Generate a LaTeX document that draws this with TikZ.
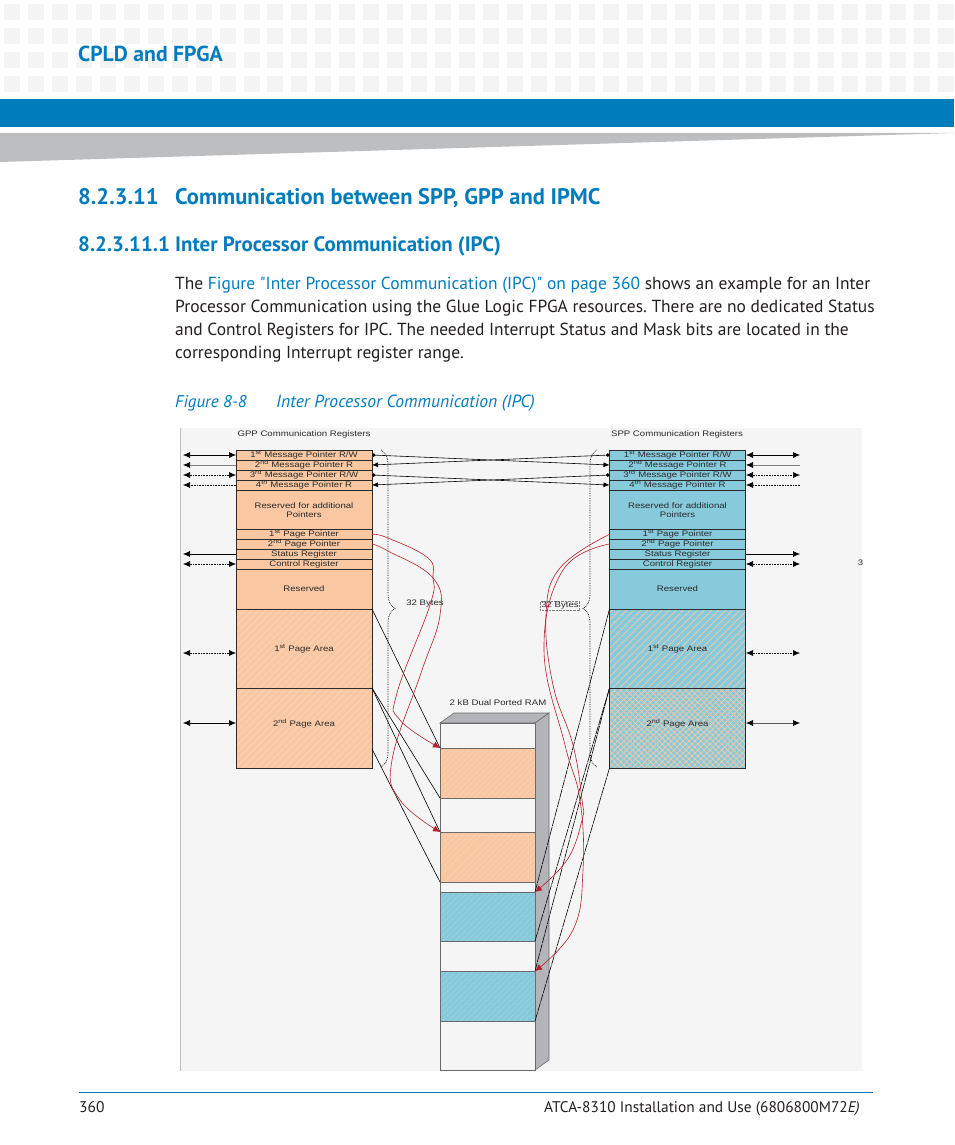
\documentclass[tikz,border=0pt]{standalone}
\usepackage{fontspec}
\setmainfont{PT Sans}
\newfontfamily\quotefont{PT Sans}
\newfontfamily\regfont[FakeStretch=1.2]{Liberation Sans}
\usetikzlibrary{arrows.meta,positioning,decorations.pathreplacing,patterns.meta}
\definecolor{HeadBlue}{HTML}{007CBD}
\definecolor{BandGray}{HTML}{BDBEC0}
\definecolor{TileGray}{HTML}{F4F4F4}
\definecolor{FigBack}{HTML}{F5F5F5}
\definecolor{GppFill}{HTML}{F9C8A3}
\definecolor{GppLight}{HTML}{FCD6BC}
\definecolor{SppFill}{HTML}{87CADC}
\definecolor{SppLight}{HTML}{A6D8E6}
\definecolor{RamSide}{HTML}{B3B4B8}
\definecolor{PtrRed}{HTML}{B5202C}
\definecolor{BodyInk}{HTML}{231F20}
\definecolor{RegInk}{HTML}{2A2A2A}
\begin{document}
\begin{tikzpicture}[
        x=1pt,y=-1pt,
        node distance=0pt,
        reg/.style={draw=RegInk,line width=0.6pt,inner sep=0pt,outer sep=0pt,minimum width=136pt,align=center,text=RegInk,font=\regfont\fontsize{8}{9}\selectfont},
        gppreg/.style={reg,fill=GppFill},
        sppreg/.style={reg,fill=SppFill},
        gpparea/.style={reg,preaction={fill=GppFill},pattern={Lines[angle=45,distance=5pt,line width=0.6pt]},pattern color=GppLight},
        spphatch/.style={reg,preaction={fill=SppFill},pattern={Lines[angle=45,distance=5pt,line width=0.7pt]},pattern color=GppFill},
        sppcross/.style={reg,preaction={fill=SppFill},preaction={pattern={Lines[angle=-45,distance=4.2pt,line width=0.7pt]},pattern color=GppFill},pattern={Lines[angle=45,distance=4.2pt,line width=0.7pt]},pattern color=GppFill},
        ramcell/.style={draw=RegInk!70,line width=0.6pt,inner sep=0pt,outer sep=0pt,minimum width=95pt,fill=FigBack},
        ramgpp/.style={ramcell,preaction={fill=GppFill},pattern={Lines[angle=45,distance=4pt,line width=0.4pt]},pattern color=GppLight},
        ramspp/.style={ramcell,preaction={fill=SppFill},pattern={Lines[angle=45,distance=4pt,line width=0.4pt]},pattern color=SppLight},
        coltitle/.style={text=RegInk,font=\regfont\fontsize{8}{9}\selectfont},
        onearr/.style={-{Latex[length=7pt,width=6pt,black]},line width=0.6pt},
        biarr/.style={{Latex[length=7pt,width=6pt,black]}-{Latex[length=7pt,width=6pt,black]},line width=0.6pt},
        msgarr/.style={{Circle[length=3.5pt]}-{Latex[length=6pt,width=5pt]},line width=0.6pt},
        mapline/.style={line width=0.6pt,black},
        ptr/.style={-{Latex[length=7pt,width=6.5pt]},line width=0.6pt,draw=PtrRed},
        bytebrace/.style={decorate,decoration={brace,amplitude=14pt},densely dotted,line width=0.7pt}
      ]
        \useasboundingbox (0,0) rectangle (954,1145);
        % page head
        \foreach \col in {0,...,39}
          \foreach \row in {0,...,3}
            \fill[TileGray] (4+23.95*\col,4+24*\row) rectangle +(16,16);
        \fill[HeadBlue] (0,99) rectangle (954,127);
        \fill[BandGray] (0,133) -- (954,133) -- (0,162) -- cycle;
        \node[anchor=base west,inner sep=0pt,text=HeadBlue,font=\fontsize{21.7}{26}\selectfont\bfseries] (chapter) at (78,62) {CPLD and FPGA};
        \node[anchor=base west,inner sep=0pt,text=HeadBlue,font=\fontsize{22.5}{25}\selectfont\bfseries] (secnum) at (78,204) {8.2.3.11};
        \node[anchor=base west,inner sep=0pt,text=HeadBlue,font=\fontsize{22.5}{25}\selectfont\bfseries] (sectitle) at (175,204) {Communication between SPP, GPP and IPMC};
        \node[anchor=base west,inner sep=0pt,text=HeadBlue,font=\fontsize{20.9}{23}\selectfont\bfseries] (subsec) at (78,251) {8.2.3.11.1 Inter Processor Communication (IPC)};
        \node[anchor=north west,inner sep=0pt,align=left,text=BodyInk,font=\fontsize{17.45}{23}\selectfont\frenchspacing] (bodytext) at (175,277) {The \textcolor{HeadBlue}{Figure {\quotefont"}Inter Processor Communication (IPC){\quotefont"} on page 360} shows an example for an Inter\\
          Processor Communication using the Glue Logic FPGA resources. There are no dedicated Status\\
          and Control Registers for IPC. The needed Interrupt Status and Mask bits are located in the\\
          corresponding Interrupt register range.};
        \node[anchor=base west,inner sep=0pt,text=HeadBlue,font=\fontsize{17}{22}\selectfont\itshape] (fignum) at (175,407) {Figure 8-8};
        \node[anchor=base west,inner sep=0pt,text=HeadBlue,font=\fontsize{17.6}{22}\selectfont\itshape] (figtitle) at (276,407) {Inter Processor Communication (IPC)};
        % figure back
        \fill[FigBack] (180,428) rectangle (862,1071);
        \draw[gray!50,line width=0.6pt] (180,428) -- (180,1071);
        \node[coltitle] (gpptitle) at (304,434) {GPP Communication Registers};
        \node[coltitle] (spptitle) at (677,434) {SPP Communication Registers};
        \node[coltitle] (ramtitle) at (498,703) {2 kB Dual Ported RAM};
        % GPP registers
        \node[gppreg,minimum height=10pt,anchor=north west] (gppA) at (236,450) {1\textsuperscript{st} Message Pointer R/W};
        \node[gppreg,minimum height=10pt,below=of gppA] (gppB) {2\textsuperscript{nd} Message Pointer R};
        \node[gppreg,minimum height=10pt,below=of gppB] (gppC) {3\textsuperscript{rd} Message Pointer R/W};
        \node[gppreg,minimum height=10pt,below=of gppC] (gppD) {4\textsuperscript{th} Message Pointer R};
        \node[gppreg,minimum height=39.5pt,below=of gppD] (gppRsv) {Reserved for additional\\Pointers};
        \node[gppreg,minimum height=9.5pt,below=of gppRsv] (gppE) {1\textsuperscript{st} Page Pointer};
        \node[gppreg,minimum height=10pt,below=of gppE] (gppF) {2\textsuperscript{nd} Page Pointer};
        \node[gppreg,minimum height=10pt,below=of gppF] (gppG) {Status Register};
        \node[gppreg,minimum height=10pt,below=of gppG] (gppH) {Control Register};
        \node[gppreg,minimum height=40pt,below=of gppH] (gppFree) {Reserved};
        \node[gpparea,minimum height=79pt,below=of gppFree] (gppPageA) {1\textsuperscript{st} Page Area};
        \node[gpparea,minimum height=80pt,below=of gppPageA] (gppPageB) {\raisebox{11pt}{2\textsuperscript{nd} Page Area}};
        % SPP registers
        \node[sppreg,minimum height=10pt,anchor=north west] (sppA) at (609.5,450) {1\textsuperscript{st} Message Pointer R/W};
        \node[sppreg,minimum height=10pt,below=of sppA] (sppB) {2\textsuperscript{nd} Message Pointer R};
        \node[sppreg,minimum height=10pt,below=of sppB] (sppC) {3\textsuperscript{rd} Message Pointer R/W};
        \node[sppreg,minimum height=10pt,below=of sppC] (sppD) {4\textsuperscript{th} Message Pointer R};
        \node[sppreg,minimum height=39.5pt,below=of sppD] (sppRsv) {Reserved for additional\\Pointers};
        \node[sppreg,minimum height=9.5pt,below=of sppRsv] (sppE) {1\textsuperscript{st} Page Pointer};
        \node[sppreg,minimum height=10pt,below=of sppE] (sppF) {2\textsuperscript{nd} Page Pointer};
        \node[sppreg,minimum height=10pt,below=of sppF] (sppG) {Status Register};
        \node[sppreg,minimum height=10pt,below=of sppG] (sppH) {Control Register};
        \node[sppreg,minimum height=40pt,below=of sppH] (sppFree) {Reserved};
        \node[spphatch,minimum height=79pt,below=of sppFree] (sppPageA) {1\textsuperscript{st} Page Area};
        \node[sppcross,minimum height=80pt,below=of sppPageA] (sppPageB) {\raisebox{11pt}{2\textsuperscript{nd} Page Area}};
        % dual ported RAM
        \fill[RamSide,draw=RegInk!70,line width=0.6pt] (440,723) -- (454,713) -- (549,713) -- (535,723) -- cycle;
        \fill[RamSide,draw=RegInk!70,line width=0.6pt] (535,723) -- (549,713) -- (549,1060) -- (535,1070) -- cycle;
        \node[ramcell,minimum height=25pt,anchor=north west] (ramA) at (440,723) {};
        \node[ramgpp,minimum height=50pt,below=of ramA] (ramB) {};
        \node[ramcell,minimum height=34pt,below=of ramB] (ramC) {};
        \node[ramgpp,minimum height=50pt,below=of ramC] (ramD) {};
        \node[ramcell,minimum height=10pt,below=of ramD] (ramE) {};
        \node[ramspp,minimum height=49pt,below=of ramE] (ramF) {};
        \node[ramcell,minimum height=30pt,below=of ramF] (ramG) {};
        \node[ramspp,minimum height=50pt,below=of ramG] (ramH) {};
        \node[ramcell,minimum height=49pt,below=of ramH] (ramI) {};
        % outside ends
        \foreach \reg/\y in {A/455,B/465,C/475,D/485,G/554,H/564,PageA/653,PageB/723}{
          \coordinate (gpp\reg out) at (183,\y);
          \coordinate (gpp\reg in) at (236,\y);
          \coordinate (spp\reg in) at (746,\y);
          \coordinate (spp\reg out) at (800,\y);
        }
        \draw[biarr] (gppAout) -- (gppAin);
        \draw[onearr,gray] (gppBin) -- (gppBout);
        \draw[biarr,densely dotted] (gppCout) -- (gppCin);
        \draw[onearr,densely dotted] (gppDin) -- (gppDout);
        \draw[onearr] (gppGin) -- (gppGout);
        \draw[biarr,densely dotted] (gppHout) -- (gppHin);
        \draw[biarr,densely dotted] (gppPageAout) -- (gppPageAin);
        \draw[biarr] (gppPageBout) -- (gppPageBin);
        \draw[biarr] (sppAin) -- (sppAout);
        \draw[onearr,gray] (sppBout) -- (sppBin);
        \draw[biarr,densely dotted] (sppCin) -- (sppCout);
        \draw[onearr,densely dotted] (sppDout) -- (sppDin);
        \draw[onearr] (sppGin) -- (sppGout);
        \draw[biarr,densely dotted] (sppHin) -- (sppHout);
        \draw[biarr,densely dotted] (sppPageAin) -- (sppPageAout);
        \draw[biarr,gray!70!black] (sppPageBin) -- (sppPageBout);
        % message pointers
        \draw[msgarr] (gppA.east) -- (sppB.west);
        \draw[msgarr] (sppA.west) -- (gppB.east);
        \draw[msgarr] (gppC.east) -- (sppD.west);
        \draw[msgarr] (sppC.west) -- (gppD.east);
        % byte braces
        \draw[bytebrace] (381,450) -- (381,767);
        \draw[bytebrace] (597,767) -- (597,450);
        \node[coltitle,inner sep=1pt] (gppbytes) at (425,604) {32 Bytes};
        \node[coltitle,inner sep=1pt,draw=gray,densely dotted,line width=0.4pt] (sppbytes) at (560,606) {32 Bytes};
        % page mapping
        \draw[mapline] (gppPageA.north east) -- (ramB.north west);
        \draw[mapline] (gppPageB.north east) -- (ramC.north west);
        \draw[mapline] (gppPageB.north east) -- (ramD.north west);
        \coordinate (gppedge) at (372,749);
        \draw[mapline] (gppedge) -- (ramE.north west);
        \draw[mapline,dash pattern=on 9pt off 0.8pt] (sppPageA.north west) -- (ramF.north east);
        \draw[mapline,dash pattern=on 9pt off 0.8pt] (sppPageB.north west) -- (ramG.north east);
        \draw[mapline,dash pattern=on 9pt off 0.8pt] (sppPageB.north west) -- (ramH.north east);
        \draw[mapline,dash pattern=on 9pt off 0.8pt] (sppPageB.south west) -- (ramI.north east);
        % page pointers
        \draw[ptr] plot[smooth,tension=0.7] coordinates {(gppE.east) (388,538) (428,558) (433,578) (430,605) (397,693) (400,720) (ramB.north west)};
        \draw[ptr] plot[smooth,tension=0.7] coordinates {(gppF.east) (388,551) (433,578) (440,615) (421,673) (392,760) (400,800) (ramD.north west)};
        \draw[ptr] plot[smooth,tension=0.7] coordinates {(sppE.west) (560,568) (546,615) (553,685) (573,745) (582,800) (582,820) (567,860) (ramF.north east)};
        \draw[ptr] plot[smooth,tension=0.7] coordinates {(sppF.west) (563,570) (544,650) (565,745) (580,800) (583,870) (573,930) (ramH.north east)};
        \node[coltitle] (clipmark) at (860.5,563) {3};
        % page foot
        \draw[HeadBlue,line width=1pt] (79,1092) -- (873,1092);
        \node[anchor=base west,inner sep=0pt,text=BodyInk,font=\fontsize{15.5}{19}\selectfont] (pagenum) at (79,1112) {360};
        \node[anchor=base east,inner sep=0pt,text=BodyInk,font=\fontsize{15.4}{19}\selectfont] (footer) at (860,1112) {ATCA-8310 Installation and Use (6806800M72\textit{E)}};
      \end{tikzpicture}
\end{document}
